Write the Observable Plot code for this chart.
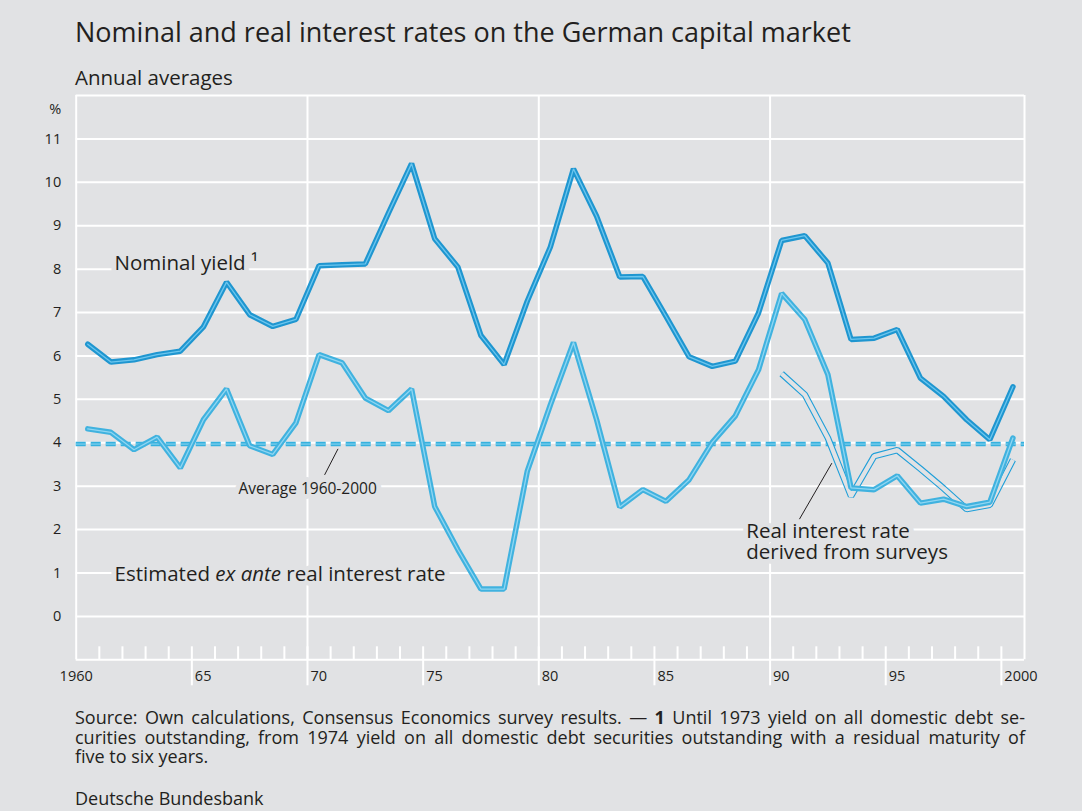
<!DOCTYPE html>
<html><head><meta charset="utf-8">
<script src="https://cdn.jsdelivr.net/npm/d3@7"></script>
<script src="https://cdn.jsdelivr.net/npm/@observablehq/plot@0.6"></script>
<style>
html,body{margin:0;padding:0;background:#e1e2e4;}
body{font-family:"Open Sans",sans-serif;color:#231f20;}
#wrap{position:relative;width:1082px;height:811px;overflow:hidden;}
#title{position:absolute;left:75px;top:15px;font-size:27px;line-height:34px;white-space:nowrap;}
#subtitle{position:absolute;left:75px;top:65px;font-size:20.5px;line-height:24px;white-space:nowrap;}
#chart{position:absolute;left:0;top:80px;}
#source{position:absolute;left:75px;top:708px;width:950px;font-size:18px;line-height:19.5px;}
#source div{text-align:justify;text-align-last:justify;white-space:nowrap;}
#source div.last{text-align-last:left;}
#footer{position:absolute;left:75px;top:788px;font-size:18px;line-height:20px;white-space:nowrap;}
</style></head>
<body><div id="wrap">
<div id="title">Nominal and real interest rates on the German capital market</div>
<div id="subtitle">Annual averages</div>
<div id="chart"></div>
<div id="source">
<div>Source: Own calculations, Consensus Economics survey results. — <b>1</b> Until 1973 yield on all domestic debt se-</div>
<div>curities outstanding, from 1974 yield on all domestic debt securities outstanding with a residual maturity of</div>
<div class="last">five to six years.</div>
</div>
<div id="footer">Deutsche Bundesbank</div>
</div>
<script>
// ---- data ----
const years = [1960,1961,1962,1963,1964,1965,1966,1967,1968,1969,
               1970,1971,1972,1973,1974,1975,1976,1977,1978,1979,
               1980,1981,1982,1983,1984,1985,1986,1987,1988,1989,
               1990,1991,1992,1993,1994,1995,1996,1997,1998,1999,2000];
const nominalYield = [6.27,5.86,5.91,6.03,6.11,6.67,7.70,6.95,6.68,6.84,
                      8.08,8.10,8.12,9.29,10.43,8.70,8.05,6.47,5.80,7.26,
                      8.51,10.31,9.22,7.82,7.83,6.91,5.98,5.76,5.88,6.99,
                      8.66,8.77,8.14,6.38,6.41,6.61,5.49,5.07,4.53,4.07,5.29];
const realRate = [4.32,4.24,3.84,4.13,3.42,4.53,5.24,3.93,3.73,4.46,
                  6.03,5.84,5.03,4.74,5.24,2.53,1.54,0.63,0.63,3.34,
                  4.87,6.31,4.53,2.52,2.92,2.65,3.15,4.01,4.62,5.68,
                  7.44,6.84,5.57,2.96,2.92,3.24,2.61,2.70,2.53,2.63,4.11];
const surveyYears = [1990,1991,1992,1993,1994,1995,1996,1997,1998,1999,2000];
const surveyRate = [5.59,5.11,4.11,2.77,3.69,3.83,3.40,2.95,2.47,2.57,3.61];
const averageRate = [3.97];

const yTicks = [0,1,2,3,4,5,6,7,8,9,10,11];
const yGrid = [0,1,2,3,4,5,6,7,8,9,10,11,12];
const xGrid = [1960,1970,1980,1990,2001];
const xTickValues = [1965,1970,1975,1980,1985,1990,1995,2000];
const xTickText = ["65","70","75","80","85","90","95","2000"];
const xFirstValue = [1960];
const xFirstText = ["1960"];
const minorTicks = [1961,1962,1963,1964,1966,1967,1968,1969,1971,1972,1973,1974,1976,1977,1978,1979,
                    1981,1982,1983,1984,1986,1987,1988,1989,1991,1992,1993,1994,1996,1997,1998,1999];
const majorTicks = [1965,1970,1975,1980,1985,1990,1995,2000];

// annotation anchors (data coordinates)
const seriesLabels = [
  {x: 1961.66, y: 8.13, text: "Nominal yield ¹"},
  {x: 1961.66, y: 0.98, text: "Estimated ex ante real interest rate"},
  {x: 1988.97, y: 1.73, text: "Real interest rate\nderived from surveys"}
];
const avgLabel = [{x: 1967.02, y: 2.94, text: "Average 1960-2000"}];
const leaders = [
  {x1: 1971.32, y1: 3.86, x2: 1970.74, y2: 3.26},
  {x1: 1992.67, y1: 3.53, x2: 1991.27, y2: 2.24}
];

// ---- build ----
const BG = "#e1e2e4", INK = "#231f20";
const nominalData = years.map((yr, i) => ({t: yr + 0.5, v: nominalYield[i]}));
const realData = years.map((yr, i) => ({t: yr + 0.5, v: realRate[i]}));
const surveyData = surveyYears.map((yr, i) => ({t: yr + 0.5, v: surveyRate[i]}));
const xLabels = xTickValues.map((v, i) => ({v, s: xTickText[i]}));
const xFirst = xFirstValue.map((v, i) => ({v, s: xFirstText[i]}));

const chart = Plot.plot({
  width: 1082,
  height: 625,
  marginLeft: 75.7,
  marginRight: 58,
  marginTop: 15,
  marginBottom: 45.7,
  x: {domain: [1960, 2001], axis: null},
  y: {domain: [-1, 12], axis: null},
  style: {background: "transparent", fontFamily: "Open Sans", color: INK, overflow: "visible"},
  marks: [
    Plot.ruleY(yGrid, {stroke: "white", strokeWidth: 2}),
    Plot.ruleY([-1], {stroke: "white", strokeWidth: 2}),
    Plot.ruleX(xGrid, {stroke: "white", strokeWidth: 2}),
    Plot.axisX(minorTicks, {tickSize: 13, dy: -13, tickFormat: () => "", stroke: "white", strokeWidth: 2}),
    Plot.axisX(majorTicks, {tickSize: 39, dy: -13, tickFormat: () => "", stroke: "white", strokeWidth: 2}),
    Plot.text(xLabels, {x: "v", text: "s", frameAnchor: "bottom", dy: 21, dx: 3, textAnchor: "start", fontSize: 14.5, fill: INK}),
    Plot.text(xFirst, {x: "v", text: "s", frameAnchor: "bottom", dy: 21, textAnchor: "middle", fontSize: 14.5, fill: INK}),
    Plot.text(yTicks, {y: d => d, frameAnchor: "left", dx: -15, textAnchor: "end", fontSize: 14.5, fill: INK}),
    Plot.text(["%"], {frameAnchor: "top-left", dx: -15, dy: 8, textAnchor: "end", fontSize: 14.5, fill: INK}),
    Plot.text(seriesLabels, {x: "x", y: "y", text: "text", textAnchor: "start", lineAnchor: "middle", lineHeight: 1.03,
      fontSize: 20.5, fill: INK, stroke: BG, strokeWidth: 10}),
    Plot.text(avgLabel, {x: "x", y: "y", text: "text", textAnchor: "start", lineAnchor: "middle",
      fontSize: 15.5, fill: INK, stroke: BG, strokeWidth: 10}),
    Plot.link(leaders, {x1: "x1", y1: "y1", x2: "x2", y2: "y2", stroke: INK, strokeWidth: 1}),
    Plot.ruleY(averageRate, {stroke: "#36b1de", strokeWidth: 4.5, strokeDasharray: "10,5"}),
    Plot.ruleY(averageRate, {stroke: "#8ed5f0", strokeWidth: 1, strokeDasharray: "10,5"}),
    Plot.line(surveyData, {x: "t", y: "v", stroke: "#1f9fd9", strokeWidth: 6.5, strokeLinejoin: "miter", strokeLinecap: "butt"}),
    Plot.line(surveyData, {x: "t", y: "v", stroke: BG, strokeWidth: 4.3, strokeLinejoin: "miter", strokeLinecap: "butt"}),
    Plot.line(realData, {x: "t", y: "v", stroke: "#40b2df", strokeWidth: 5.5, strokeLinejoin: "miter"}),
    Plot.line(realData, {x: "t", y: "v", stroke: "#8fd6f2", strokeWidth: 1.3, strokeLinejoin: "miter"}),
    Plot.line(nominalData, {x: "t", y: "v", stroke: "#1f96d0", strokeWidth: 5.5, strokeLinejoin: "miter"}),
    Plot.line(nominalData, {x: "t", y: "v", stroke: "#6cc6ee", strokeWidth: 1.3, strokeLinejoin: "miter"})
  ]
});
document.getElementById("chart").appendChild(chart);

// italicise "ex ante"
const NS = "http://www.w3.org/2000/svg";
chart.querySelectorAll("text").forEach(el => {
  if (el.textContent === "Estimated ex ante real interest rate") {
    while (el.firstChild) el.removeChild(el.firstChild);
    el.appendChild(document.createTextNode("Estimated "));
    const ts = document.createElementNS(NS, "tspan");
    ts.setAttribute("font-style", "italic");
    ts.textContent = "ex ante";
    el.appendChild(ts);
    el.appendChild(document.createTextNode(" real interest rate"));
  }
});

// fit justified source lines into 950px
document.querySelectorAll("#source div").forEach(div => {
  const span = document.createElement("span");
  while (div.firstChild) span.appendChild(div.firstChild);
  div.appendChild(span);
  const w = span.getBoundingClientRect().width;
  const n = span.textContent.length;
  if (w > 950) span.style.letterSpacing = ((950 - w) / n - 0.05) + "px";
});
</script>
</body></html>
